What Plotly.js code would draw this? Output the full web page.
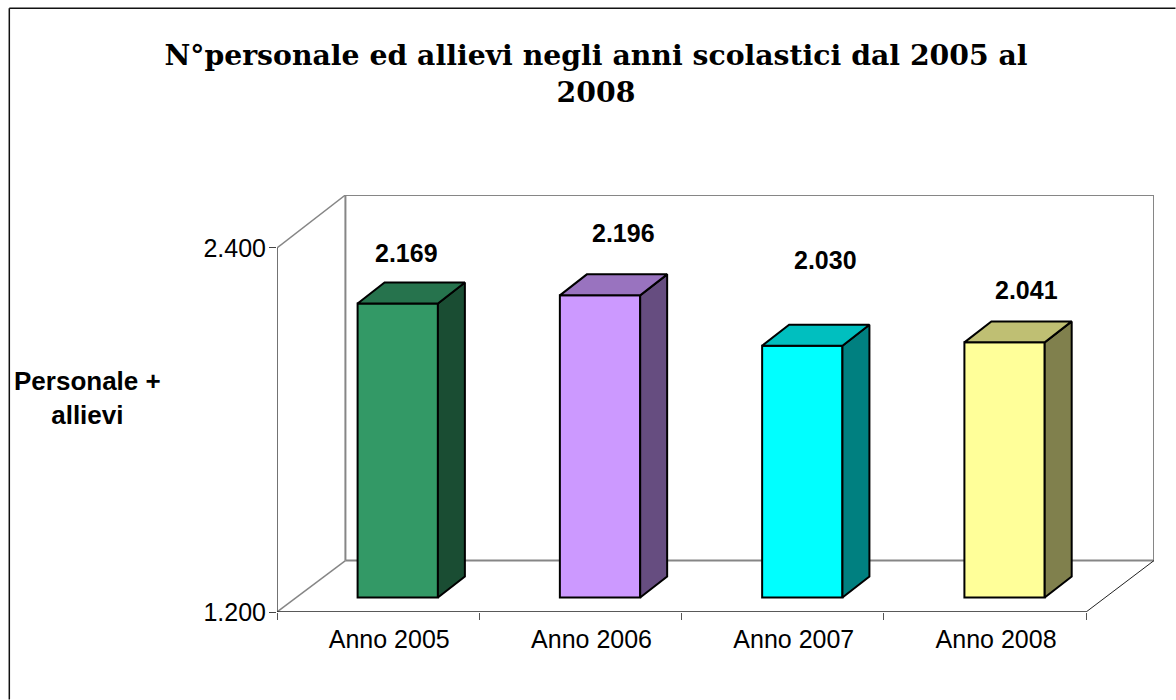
<!DOCTYPE html>
<html><head><meta charset="utf-8">
<script src="https://cdn.plot.ly/plotly-3.0.1.min.js"></script>
<style>html,body{margin:0;padding:0;background:#fff}#c{width:1176px;height:700px}</style>
</head><body><div id="c"></div>
<script>
const categories = ['Anno 2005','Anno 2006','Anno 2007','Anno 2008'];
const values = [2169,2196,2030,2041];
const frontColors = ['#339966','#CC99FF','#00FFFF','#FFFF99'];
const topColors = ['#26734D','#9973BF','#00BFBF','#BFBF73'];
const sideColors = ['#1A4D33','#664D80','#008080','#80804D'];
const yTicks = [1200,2400];

// Scales: pixels per unit of each axis, used only to size the fake-3D depth.
const pxPerCat = 202.5, pxPerVal = 364.5/1200;
const L=276.5,R=1154.5,T=195,B=612.5;
const yMin=1200, yMax=yMin+(B-T)/pxPerVal, xMax=(R-L)/pxPerCat;
const wallDx=68.5/pxPerCat, wallDy=51.5/pxPerVal;
const lift=14.5/pxPerVal, halfW=40.2/pxPerCat, barDx=27/pxPerCat, barDy=21/pxPerVal;
const centers=categories.map((c,i)=>i+0.597);
const fmt=v=>{const s=String(v);return s.slice(0,-3)+'.'+s.slice(-3)};
const baseY=yMin+lift;

const traces=[{
  type:'bar',x:centers,y:values.map(v=>v-yMin),base:values.map(()=>baseY),
  width:categories.map(()=>2*halfW),
  marker:{color:frontColors,line:{color:'#000',width:2}},hoverinfo:'skip',showlegend:false
}];
values.forEach((v,i)=>{
  const xr=centers[i]+halfW,xl=centers[i]-halfW,top=v+lift;
  traces.push({type:'scatter',mode:'lines',fill:'toself',fillcolor:sideColors[i],
    x:[xr,xr+barDx,xr+barDx,xr,xr],y:[baseY,baseY+barDy,top+barDy,top,baseY],
    line:{color:'#000',width:2},hoverinfo:'skip',showlegend:false});
  traces.push({type:'scatter',mode:'lines',fill:'toself',fillcolor:topColors[i],
    x:[xl,xl+barDx,xr+barDx,xr,xl],y:[top,top+barDy,top+barDy,top,top],
    line:{color:'#000',width:2},hoverinfo:'skip',showlegend:false});
});

const seg=(x0,y0,x1,y1,color,width)=>({type:'line',xref:'x',yref:'y',x0,y0,x1,y1,layer:'below',line:{color,width}});
const wallTop=yMax, axisTop=2400, gray='#868686';
const px=x=>(x-L)/(R-L), py=y=>(B-y)/(B-T);
const frame=(x0,y0,x1,y1)=>({type:'line',xref:'paper',yref:'paper',x0:px(x0),y0:py(y0),x1:px(x1),y1:py(y1),layer:'below',line:{color:'#111',width:1.5}});
const shapes=[
  seg(wallDx,yMin+wallDy,wallDx,wallTop,gray,2),
  seg(wallDx,wallTop,xMax,wallTop,gray,2),
  seg(xMax,wallTop,xMax,yMin+wallDy,gray,2),
  seg(wallDx,yMin+wallDy,xMax,yMin+wallDy,gray,2),
  seg(0,axisTop,wallDx,wallTop,gray,1.5),
  seg(0,yMin,wallDx,yMin+wallDy,gray,1.5),
  seg(4,yMin,xMax,yMin+wallDy,'#222',1),
  seg(0,yMin,0,axisTop,'#444',1.5),
  seg(0,yMin,4,yMin,'#222',1.5),
  frame(8.5,8,1176,8),
  frame(8.5,8,8.5,700)
];

const labelDx=[9,23,23,22], labelDy=[51,62,86,52];
const annotations=values.map((v,i)=>({x:centers[i],y:v+lift,xref:'x',yref:'y',text:'<b>'+fmt(v)+'</b>',showarrow:false,
  xshift:labelDx[i],yshift:labelDy[i],font:{family:'Liberation Sans',size:25,color:'#000'},
  xanchor:'center',yanchor:'middle'}));
annotations.push({xref:'paper',yref:'paper',x:px(87),y:py(398),text:'<b>Personale +<br>allievi</b>',showarrow:false,
  xanchor:'center',yanchor:'middle',align:'center',font:{family:'Liberation Sans',size:26,color:'#000'}});

const layout={
  width:1176,height:700,paper_bgcolor:'#fff',plot_bgcolor:'rgba(0,0,0,0)',showlegend:false,
  margin:{l:L,r:1176-R,t:T,b:700-B,pad:0},
  title:{text:'<b>N°personale ed allievi negli anni scolastici dal 2005 al<br>2008</b>',
    x:596/1176,xanchor:'center',xref:'container',y:1-65/700,yref:'container',yanchor:'middle',
    font:{family:'DejaVu Serif',size:28.3,color:'#000'}},
  xaxis:{range:[0,xMax],tickmode:'array',tickvals:categories.map((c,i)=>i+0.555),ticktext:categories,
    ticks:'',showgrid:false,zeroline:false,showline:false,ticklabelstandoff:10,
    tickfont:{family:'Liberation Sans',size:25,color:'#000'},
    minor:{tickmode:'array',tickvals:[0,1,2,3,4],ticks:'outside',ticklen:7,tickcolor:'#555',tickwidth:1,showgrid:false}},
  yaxis:{range:[yMin,yMax],tickmode:'array',tickvals:yTicks,ticktext:yTicks.map(fmt),
    ticks:'outside',ticklen:7,tickcolor:'#444',tickwidth:1,showgrid:false,zeroline:false,showline:false,
    ticklabelstandoff:-2,
    tickfont:{family:'Liberation Sans',size:25,color:'#000'}},
  barmode:'overlay',shapes,annotations
};
Plotly.newPlot('c',traces,layout,{displayModeBar:false,staticPlot:true});
</script></body></html>
